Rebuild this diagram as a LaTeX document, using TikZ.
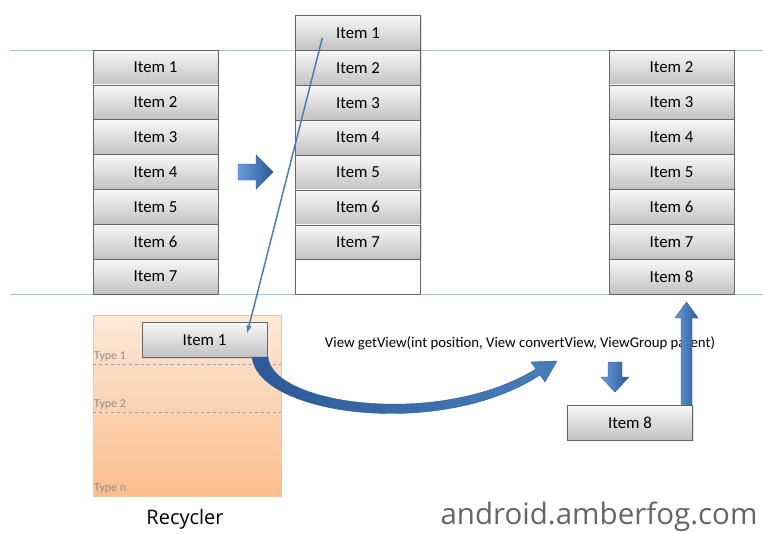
\documentclass[tikz,border=0pt]{standalone}
\usepackage{fontspec}
\setmainfont{Carlito}
\newfontfamily\wmfont{Open Sans}
\usepackage{tikz}
\usetikzlibrary{shadows}
\usetikzlibrary{calc}
\definecolor{linebl}{HTML}{9DC3E6}
\definecolor{arrbl}{HTML}{4A7EBB}
\definecolor{arrdk}{HTML}{2B5A96}
\definecolor{arrlt}{HTML}{6A9BDA}
\definecolor{rectop}{HTML}{FDE9D9}
\definecolor{recbot}{HTML}{FBBE8C}
\definecolor{recedge}{HTML}{F6C29A}
\tikzstyle{item}=[draw=black!60, top color=black!3, bottom color=black!24, minimum width=125pt, minimum height=34.86pt, inner sep=0pt, font=\fontsize{16.8}{18}\selectfont, drop shadow={opacity=0.25, shadow xshift=1.2pt, shadow yshift=-1.2pt}]
\tikzstyle{emptybox}=[draw=black!60, fill=white, minimum width=125pt, minimum height=34.86pt]
\tikzstyle{hline}=[linebl, line width=0.8pt]
\tikzstyle{typeline}=[arrbl!70, dashed, line width=0.6pt]
\tikzstyle{typelbl}=[text=black!45, font=\fontsize{12}{14}\selectfont, inner sep=1pt]
\tikzstyle{blockarr}=[draw=arrdk, line width=0.4pt, left color=arrlt, right color=arrdk]
\tikzstyle{thinarr}=[arrbl, line width=1.5pt, -latex]

\begin{document}
\begin{tikzpicture}[x=1pt, y=-1pt]
\useasboundingbox (0,0) rectangle (763,533);
% screen edges
\draw[hline] (10,50) -- (763,50);
\draw[hline] (10,294.5) -- (763,294.5);
% the three lists
\foreach \i in {1,...,7}
  \node[item] (a\i) at (155.5, {67.4+(\i-1)*34.86}) {Item \i};
\foreach \i in {1,...,7}
  \node[item] (b\i) at (358, {33+(\i-1)*34.86}) {Item \i};
\node[emptybox] (b8) at (358, 277) {};
\foreach \i in {2,...,8}
  \node[item] (c\i) at (671.5, {67.4+(\i-2)*34.86}) {Item \i};
\draw[blockarr] (238,164) -- (256,164) -- (256,155) -- (273,172) -- (256,189) -- (256,180) -- (238,180) -- cycle;
% recycler
\node[draw=recedge, top color=rectop, bottom color=recbot, minimum width=188pt, minimum height=181pt] (rec) at (187,405.5) {};
\draw[typeline] (93,364) -- (281,364);
\draw[typeline] (93,412) -- (281,412);
\node[typelbl, anchor=south west] (t1) at (93,363) {Type 1};
\node[typelbl, anchor=south west] (t2) at (93,411) {Type 2};
\node[typelbl, anchor=south west] (tn) at (93,495) {Type n};
\node[item] (r1) at (204.5,340) {Item 1};
\node[font=\wmfont\fontsize{20}{24}\selectfont] (rlbl) at (185,519) {Recycler};
% scrap goes to the recycler
\coordinate (p) at ($(b1.west)+(27,5)$);
\coordinate (q) at ($(r1.east)+(-20,-7)$);
\draw[thinarr] (p) -- (q);
% and comes back through getView
\draw[blockarr, left color=arrdk, right color=arrbl] (252,357) .. controls (258,415) and (440,440) .. (540,375) -- (545,382) -- (557,361) -- (531,362) -- (536,369) .. controls (440,428) and (272,405) .. (268,357) -- cycle;
\node[font=\fontsize{14.8}{16}\selectfont] (gv) at (520,343) {View getView(int position, View convertView, ViewGroup parent)};
\draw[blockarr] (608,362) -- (622,362) -- (622,377) -- (629,377) -- (615,392) -- (601,377) -- (608,377) -- cycle;
\node[item] (n8) at (630,422.5) {Item 8};
\draw[blockarr] (681,405) -- (692,405) -- (692,318) -- (698,318) -- (686.5,302) -- (675,318) -- (681,318) -- cycle;
\node[anchor=east, text=black!60, font=\wmfont\fontsize{29.5}{32}\selectfont] (wm) at (761,517) {android.amberfog.com};
\end{tikzpicture}
\end{document}
